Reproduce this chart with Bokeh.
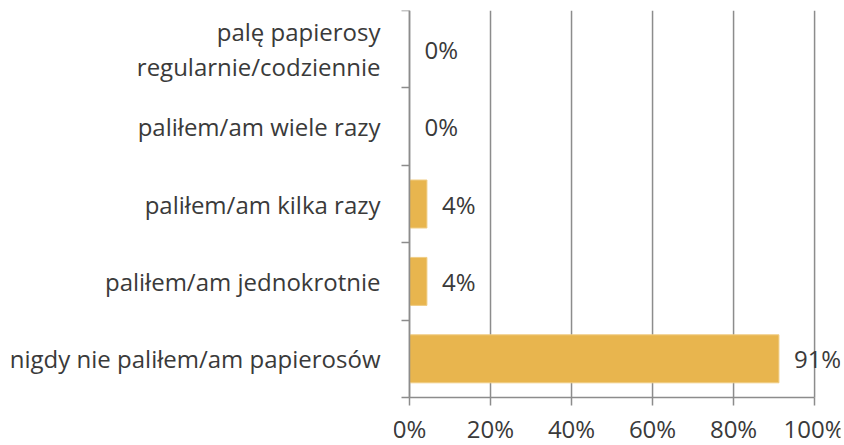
from bokeh.plotting import figure
from bokeh.models import ColumnDataSource, Range1d, FixedTicker, LabelSet, LinearAxis
from bokeh.core.properties import value
from bokeh.embed import file_html
from bokeh.resources import INLINE

categories = [
    "nigdy nie paliłem/am papierosów",
    "paliłem/am jednokrotnie",
    "paliłem/am kilka razy",
    "paliłem/am wiele razy",
    "palę papierosy\nregularnie/codziennie",
]
values = [91.2, 4.3, 4.3, 0.0, 0.0]
value_labels = ["91%", "4%", "4%", "0%", "0%"]
x_ticks = [0, 20, 40, 60, 80, 100]

FONT = "Open Sans"
TEXT = "#3a3a3a"
GRID = "#8C8C8C"
BAR = "#E8B54E"
FS = "24px"

n = len(categories)
ypos = [i + 0.5 for i in range(n)]
bounds = list(range(n + 1))
src = ColumnDataSource(dict(y=ypos, v=values, lab=value_labels, cat=categories))

# the frame reaches a little beyond the 0..100 / 0..n plotting area so that the
# axes drawn inside it (and the "91%" label) are not clipped
p = figure(width=844, height=445, output_backend="svg", toolbar_location=None,
           x_range=Range1d(-3.95, 106.4), y_range=Range1d(-0.62, n),
           min_border_left=393, min_border_right=4, min_border_top=10, min_border_bottom=0)
p.outline_line_color = None
p.background_fill_color = "white"
p.border_fill_color = "white"
p.xgrid.grid_line_color = None
p.ygrid.grid_line_color = None

# vertical gridlines, spanning the category area only
p.segment(x0=x_ticks, y0=0, x1=x_ticks, y1=n, line_color=GRID, line_width=1.5)

p.hbar(y="y", left=0, right="v", height=0.62, source=src,
       fill_color=BAR, line_color="#F0CD84", line_width=1)

labels = LabelSet(x="v", y="y", text="lab", source=src, x_offset=15,
                  text_baseline="middle", text_align="left",
                  text_font=value(FONT), text_font_size=FS, text_color=TEXT)
p.add_layout(labels)

# x axis, drawn at y = 0
p.xaxis.fixed_location = 0
p.xaxis.ticker = FixedTicker(ticks=x_ticks, minor_ticks=[])
p.xaxis.bounds = (0, 100)
p.xaxis.major_label_overrides = {t: f"{t}%" for t in x_ticks}
p.xaxis.axis_line_color = GRID
p.xaxis.axis_line_width = 1.5
p.xaxis.major_tick_line_color = GRID
p.xaxis.major_tick_line_width = 1.5
p.xaxis.major_tick_out = 8
p.xaxis.major_tick_in = 0
p.xaxis.minor_tick_line_color = None
p.xaxis.major_label_text_font = FONT
p.xaxis.major_label_text_font_size = FS
p.xaxis.major_label_text_color = TEXT
p.xaxis.major_label_standoff = 6

# y axis drawn at x = 0: tick marks at category boundaries, no labels
p.yaxis.fixed_location = 0
p.yaxis.ticker = FixedTicker(ticks=bounds, minor_ticks=[])
p.yaxis.bounds = (0, n)
p.yaxis.major_label_overrides = {b: "" for b in bounds}
p.yaxis.major_label_text_font_size = "0px"
p.yaxis.major_label_standoff = 0
p.yaxis.axis_line_color = GRID
p.yaxis.axis_line_width = 1.5
p.yaxis.major_tick_line_color = GRID
p.yaxis.major_tick_line_width = 1.5
p.yaxis.major_tick_out = 8
p.yaxis.major_tick_in = 0
p.yaxis.minor_tick_line_color = None

# outer y axis: category labels
cat_axis = LinearAxis(ticker=FixedTicker(ticks=ypos, minor_ticks=[]),
                      major_label_overrides={y: c for y, c in zip(ypos, categories)})
cat_axis.axis_line_color = None
cat_axis.major_tick_line_color = None
cat_axis.minor_tick_line_color = None
cat_axis.major_tick_out = 0
cat_axis.major_tick_in = 0
cat_axis.major_label_text_font = FONT
cat_axis.major_label_text_font_size = FS
cat_axis.major_label_text_color = TEXT
cat_axis.major_label_text_align = "right"
cat_axis.major_label_text_line_height = 1.07
cat_axis.major_label_standoff = 13
p.add_layout(cat_axis, "left")

open("out.html", "w").write(file_html(p, INLINE))
